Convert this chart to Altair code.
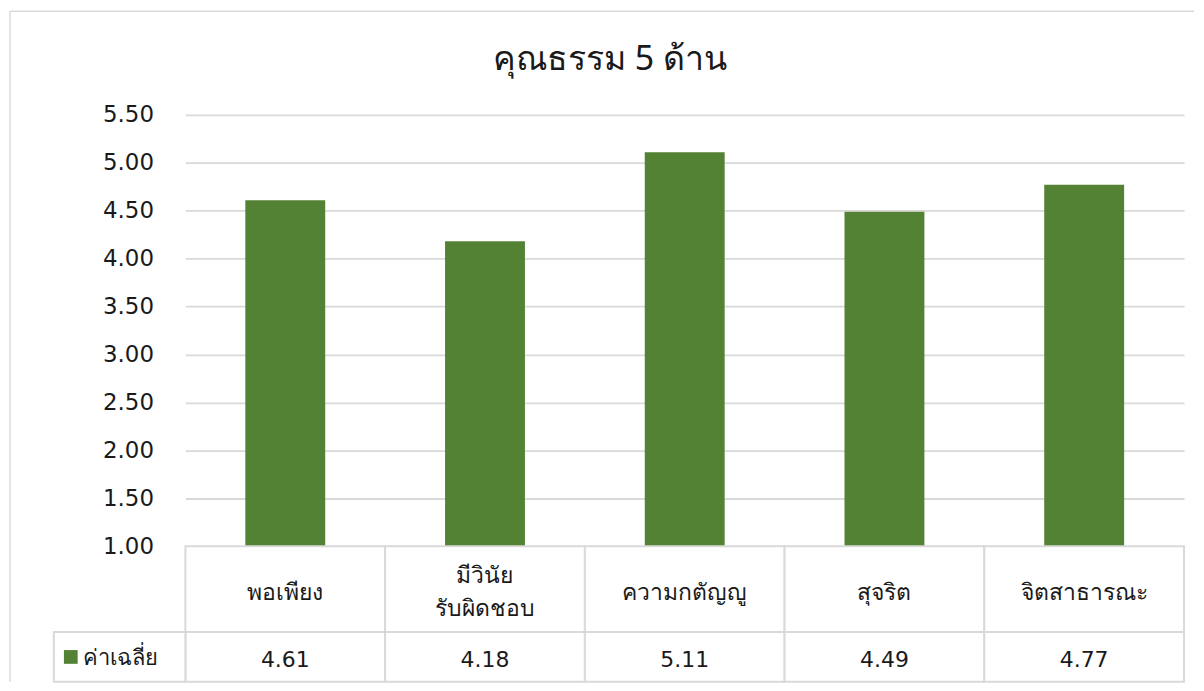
import altair as alt
import pandas as pd

title_text = "คุณธรรม 5 ด้าน"
series_name = "ค่าเฉลี่ย"
categories = ["พอเพียง", "มีวินัย\nรับผิดชอบ", "ความกตัญญู", "สุจริต", "จิตสาธารณะ"]
values = [4.61, 4.18, 5.11, 4.49, 4.77]
value_labels = ["4.61", "4.18", "5.11", "4.49", "4.77"]
y_ticks = [1.0, 1.5, 2.0, 2.5, 3.0, 3.5, 4.0, 4.5, 5.0, 5.5]

BAR = "#548235"
GRID = "#d9d9d9"
TXT = "#1a1a1a"
NUMFONT = "DejaVu Sans"
THAIFONT = "Noto Sans, DejaVu Sans, sans-serif"

df = pd.DataFrame({"cat": categories, "val": values, "lab": value_labels})
one = pd.DataFrame({"t": [title_text]})
leg = pd.DataFrame({"s": [series_name]})

W = 1002
H = 433

x_bar = alt.X("cat:N", sort=categories, axis=None,
              scale=alt.Scale(paddingInner=0.6, paddingOuter=0.3))
y_bar = alt.Y("val:Q", scale=alt.Scale(domain=[1, 5.5], nice=False, zero=False),
              axis=alt.Axis(values=y_ticks, format=".2f", grid=True, gridColor=GRID,
                            gridWidth=1.8, domain=False, ticks=False, labelFontSize=23,
                            labelPadding=32, labelColor=TXT, labelFont=NUMFONT, title=None))

bars = alt.Chart(df).mark_bar(color=BAR).encode(x=x_bar, y=y_bar, y2=alt.datum(1.0))

title = alt.Chart(one).mark_text(fontSize=34, font=THAIFONT, color=TXT).encode(
    text="t:N", x=alt.value(426), y=alt.value(-55))

border_top = alt.Chart(one).mark_rule(color=GRID, strokeWidth=1.5).encode(
    x=alt.value(-176), x2=alt.value(1012), y=alt.value(-104))
border_left = alt.Chart(one).mark_rule(color=GRID, strokeWidth=1.5).encode(
    x=alt.value(-176), y=alt.value(-104), y2=alt.value(569))

top = alt.layer(border_top, border_left, bars, title).properties(width=W, height=H)

x_tab = alt.X("cat:N", sort=categories, axis=None,
              scale=alt.Scale(paddingInner=0, paddingOuter=0))

hdr_cells = alt.Chart(df).mark_rect(fill="white", stroke=GRID, strokeWidth=2).encode(
    x=x_tab, y=alt.value(0), y2=alt.value(86))
hdr_text1 = alt.Chart(df).transform_filter(
    "indexof(datum.cat, '\\n') < 0").mark_text(
    fontSize=23, font=THAIFONT, color=TXT).encode(
    x=x_tab, y=alt.value(47), text="cat:N")
hdr_text2 = alt.Chart(df).transform_filter(
    "indexof(datum.cat, '\\n') >= 0").mark_text(
    fontSize=23, lineBreak="\n", font=THAIFONT, color=TXT, lineHeight=33).encode(
    x=x_tab, y=alt.value(30), text="cat:N")
header = alt.layer(hdr_cells, hdr_text1, hdr_text2).properties(width=W, height=86)

val_cells = alt.Chart(df).mark_rect(fill="white", stroke=GRID, strokeWidth=2).encode(
    x=x_tab, y=alt.value(0), y2=alt.value(50))
val_text = alt.Chart(df).mark_text(fontSize=22, font=NUMFONT, color=TXT).encode(
    x=x_tab, y=alt.value(28), text="lab:N")
leg_cell = alt.Chart(leg).mark_rect(fill="white", stroke=GRID, strokeWidth=2).encode(
    x=alt.value(-132), x2=alt.value(0), y=alt.value(0), y2=alt.value(50))
leg_sym = alt.Chart(leg).mark_square(color=BAR, size=190, opacity=1).encode(
    x=alt.value(-115), y=alt.value(25))
leg_text = alt.Chart(leg).mark_text(fontSize=22, font=THAIFONT, color=TXT, align="left").encode(
    x=alt.value(-103), y=alt.value(26), text="s:N")
valrow = alt.layer(val_cells, leg_cell, val_text, leg_sym, leg_text).properties(width=W, height=50)

chart = alt.vconcat(top, header, valrow, spacing=0, bounds="flush").resolve_scale(
    x="independent").properties(
    padding={"left": 0, "top": 0, "right": 0, "bottom": 0},
    background="white").configure_view(stroke="transparent")

chart.save("out.html", embed_options={"renderer": "svg", "actions": False})
